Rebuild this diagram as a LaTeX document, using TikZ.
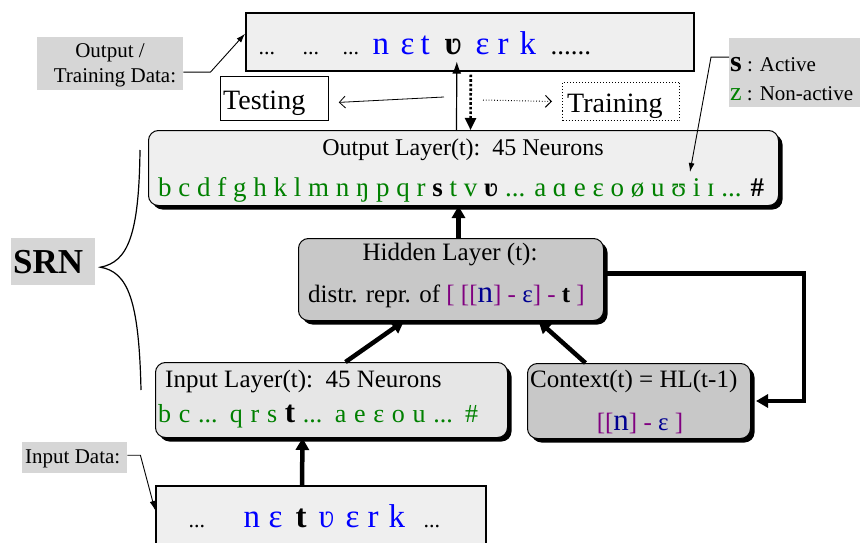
\documentclass[tikz,border=0pt]{standalone}
\usepackage{fontspec}
\setmainfont{Liberation Serif}
\usetikzlibrary{shadows,arrows.meta}

\definecolor{panelfill}{HTML}{EFEFEF}
\definecolor{layerfill}{HTML}{E6E6E6}
\definecolor{darkfill}{HTML}{C8C8C8}
\definecolor{tagfill}{HTML}{D6D6D6}
\definecolor{ipagreen}{HTML}{008000}
\definecolor{ipablue}{HTML}{0000FF}
\definecolor{ipanavy}{HTML}{000090}
\definecolor{ipapurple}{HTML}{800080}

% font size in points, tight leading
\newcommand{\fsz}[1]{\fontsize{#1}{#1}\selectfont}
% place a piece of text at a horizontal offset inside a line
\newcommand{\putat}[2]{\makebox[0pt][l]{\hspace*{#1pt}#2}}
\newcommand{\pur}[1]{{\color{ipapurple}#1}}
\newcommand{\nav}[1]{{\color{ipanavy}#1}}

\begin{document}
\begin{tikzpicture}[x=1pt,y=-1pt,
  panel/.style={draw=black, line width=1.6pt, fill=panelfill, inner sep=0pt, anchor=north west},
  layer/.style={draw=black, line width=1pt, rounded corners=10pt, inner sep=0pt, anchor=north west,
    general shadow={fill=black, shadow xshift=4pt, shadow yshift=-4pt}},
  tag/.style={fill=tagfill, inner sep=0pt, anchor=north west},
  txt/.style={inner sep=0pt, anchor=base west},
  ctxt/.style={inner sep=0pt, anchor=base},
  heavy/.style={line width=4.5pt, -{Triangle[length=12pt,width=13pt]}},
  pointer/.style={line width=0.9pt, -{Latex[length=9pt,width=6pt]}},
  barb/.style={line width=0.8pt, -{Straight Barb[length=6pt,width=12pt]}},
]
\useasboundingbox[fill=white] (0,0) rectangle (860,543);

% ---------- boxes ----------
\node[panel, minimum width=448pt, minimum height=58pt] (topdata) at (245,12) {};
\node[panel, minimum width=330pt, minimum height=70pt] (botdata) at (155,485) {};
\node[layer, fill=panelfill, minimum width=630pt, minimum height=75pt] (outlayer) at (148,130) {};
\node[layer, fill=darkfill, minimum width=305pt, minimum height=82pt] (hidden) at (298,238) {};
\node[layer, fill=layerfill, minimum width=352pt, minimum height=75pt] (inlayer) at (155,362) {};
\node[layer, fill=darkfill, minimum width=223pt, minimum height=75pt] (context) at (527,363) {};

\node[tag, minimum width=146pt, minimum height=53pt] (otdtag) at (37,37) {};
\node[tag, minimum width=131pt, minimum height=69pt] (legend) at (729,38) {};
\node[tag, minimum width=105pt, minimum height=31pt] (indtag) at (22,442) {};
\node[tag, minimum width=84pt, minimum height=47pt] (srntag) at (11,238) {};

\node[draw=black, line width=0.8pt, fill=white, inner sep=0pt, anchor=north west,
  minimum width=108pt, minimum height=44pt] (testing) at (220,76) {};
\node[draw=black, line width=1pt, dotted, inner sep=0pt, anchor=north west,
  minimum width=117pt, minimum height=38pt] (training) at (562,82) {};

% ---------- texts ----------
\node[txt] (topseq) at (258,55) {\fsz{22}\putat{0}{...}\putat{44}{...}\putat{84}{...}\color{ipablue}\fsz{33}\putat{114}{n}\putat{142}{ɛ}\putat{162}{t}\putat{186}{\color{black}\bfseries ʋ}\putat{217}{ɛ}\putat{239}{r}\putat{261}{k}\putat{292}{\color{black}\fsz{27}......}};
\node[txt] (botseq) at (188,527) {\fsz{22}\putat{0}{...}\color{ipablue}\fsz{33}\putat{55}{n}\putat{80}{ɛ}\putat{107}{\color{black}\bfseries t}\putat{130}{ʋ}\putat{157}{ɛ}\putat{179}{r}\putat{200}{k}\putat{235}{\color{black}\fsz{22}...}};

\node[ctxt] (outlabel) at (463,155) {\fsz{24}Output Layer(t):\ \ 45 Neurons};
\node[txt] (outrow) at (158,196) {\fsz{27}\color{ipagreen}\makebox[606pt][s]{b c d f g h k l m n ŋ p q r {\color{black}\bfseries s} t v {\color{black}\bfseries ʋ} ... a ɑ e ɛ o ø u ʊ i ɪ ... {\color{black}\bfseries\#}}};

\node[ctxt] (hidlabel) at (450,260) {\fsz{25}Hidden Layer (t):};
\node[txt] (hidrepr) at (308,302) {\fsz{25}distr. repr. of \pur{[\ [[}\nav{\fsz{31}n}\pur{]\ -\ }\nav{ɛ}\pur{]\ -\ }{\bfseries t}\pur{\ ]}};

\node[txt] (inlabel) at (165,387) {\fsz{25}Input Layer(t):\ \ 45 Neurons};
\node[txt] (inrow) at (158,422) {\fsz{26}\color{ipagreen}\makebox[320pt][s]{b c ... q r s {\color{black}\bfseries\fsz{31}t} ... a e ɛ o u ... \#}};

\node[txt] (ctxlabel) at (530,387) {\fsz{25}Context(t) = HL(t-1)};
\node[ctxt] (ctxrepr) at (640,430) {\fsz{25}\pur{[[}\nav{\fsz{31}n}\pur{]\ -\ }\nav{ɛ}\pur{\ ]}};

\node[ctxt] (otdtext1) at (110,58) {\fsz{21}Output /};
\node[ctxt] (otdtext2) at (115,83) {\fsz{21}Training Data:};
\node[txt] (indtext) at (25,463) {\fsz{21}Input Data:};
\node[txt] (srntext) at (13,273) {\fsz{35}\bfseries SRN};
\node[txt] (legend1) at (730,71) {{\bfseries\fsz{30}s}\fsz{21}\ : Active};
\node[txt] (legend2) at (730,100) {{\color{ipagreen}\fsz{26}z}\fsz{21}\ : Non-active};
\node[txt] (testtext) at (223,110) {\fsz{28}Testing};
\node[txt] (traintext) at (567,112) {\fsz{28}Training};

% ---------- connectors ----------
\coordinate (splitL) at (444,97);
\coordinate (splitR) at (483,100);
\coordinate (activetip) at (690,172);

\draw[pointer] ([yshift=-8.5pt]otdtag.east) -- ++(27,0) -- ([yshift=8pt]topdata.west);
\draw[pointer] ([yshift=15.5pt]legend.west) -- ++(-18,0) -- (activetip);
\draw[pointer] ([yshift=2.5pt]indtag.east) -- ++(13,0) -- ([yshift=-25pt]botdata.north west);

\draw[line width=1.2pt, -{Latex[length=12pt,width=9pt]}] ([xshift=-7pt]outlayer.north) -- ([xshift=-13pt,yshift=10pt]topdata.south);
\draw[line width=2.6pt, dotted, -{Triangle[length=12pt,width=11pt]}] ([xshift=1pt,yshift=-3pt]topdata.south) -- ([xshift=7pt]outlayer.north);
\draw[barb] (splitL) -- ([xshift=10pt,yshift=-4pt]testing.east);
\draw[barb, dotted, line width=1pt] (splitR) -- ([xshift=-10pt]training.west);

\draw[heavy] ([xshift=7.5pt]hidden.north) -- ([xshift=-5pt]outlayer.south);
\draw[heavy] ([xshift=14pt]inlayer.north) -- ([xshift=-47pt]hidden.south);
\draw[heavy] ([xshift=-53.5pt]context.north) -- ([xshift=87.5pt]hidden.south);
\draw[heavy] ([yshift=6pt]hidden.east) -- ++(200,0) |- ([xshift=5pt]context.east);
\draw[heavy] ([xshift=147pt]botdata.north west) -- ([xshift=-29pt]inlayer.south);

% brace grouping the network layers
\draw[line width=1.2pt] (140,150) .. controls (139,235) and (128,262) .. ([xshift=5pt,yshift=-5.5pt]srntag.east)
  .. controls (128,272) and (139,300) .. (141,390);
\end{tikzpicture}
\end{document}
